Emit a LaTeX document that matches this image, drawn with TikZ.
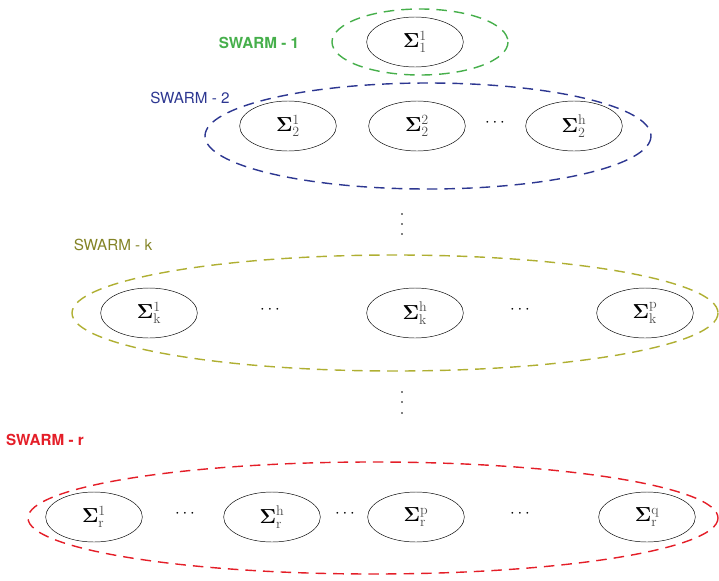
\documentclass[tikz,border=0pt]{standalone}
\usepackage[no-math]{fontspec}
\setsansfont{TeX Gyre Heros}
\usetikzlibrary{shapes.geometric}

\definecolor{swarmgreen}{RGB}{70,175,75}
\definecolor{swarmblue}{RGB}{45,55,145}
\definecolor{swarmolive}{RGB}{175,175,50}
\definecolor{swarmred}{RGB}{228,30,40}

% agent label: bold sigma with upright grey indices
\newcommand{\agentsig}[2]{$\mathbf{\Sigma}_{\textcolor{black!70}{\mathrm{#1}}}^{\textcolor{black!70}{\mathrm{#2}}}$}

\tikzset{
  agent/.style={draw, ellipse, thin, minimum width=2.9cm, minimum height=1.5cm, inner sep=0pt, font=\LARGE},
  swarm/.style={line width=1.2pt, dash pattern=on 9pt off 6pt},
  tag/.style={font=\sffamily\fontsize{13}{15}\selectfont},
  boldtag/.style={font=\sffamily\bfseries\fontsize{13}{15}\selectfont},
  hdots/.style={font=\Large},
}

\begin{document}
\begin{tikzpicture}[x=0.03cm,y=-0.03cm]
\useasboundingbox (0,0) rectangle (719,581);

% swarm 1
\draw[swarm, swarmgreen] (420,42) ellipse [x radius=88, y radius=33];
\node [agent] (s11) at (415,42) {\agentsig{1}{1}};
\node [boldtag, swarmgreen] (t1) at (259,43) {SWARM - 1};

% swarm 2
\draw[swarm, swarmblue] (428,136) ellipse [x radius=223, y radius=53];
\node [agent] (s21) at (288,126) {\agentsig{2}{1}};
\node [agent] (s22) at (417,126) {\agentsig{2}{2}};
\node [agent] (s2h) at (574,126) {\agentsig{2}{h}};
\node [hdots] (d2) at (495,123) {$\cdots$};
\node [tag, swarmblue] (t2) at (190,98) {SWARM - 2};

% vertical dots between swarms
\foreach \y in {214,224,234}
  \fill (402,\y) circle [radius=0.9];

% swarm k
\draw[swarm, swarmolive] (395,313) ellipse [x radius=323, y radius=58];
\node [agent] (sk1) at (149,313) {\agentsig{k}{1}};
\node [agent] (skh) at (415,313) {\agentsig{k}{h}};
\node [agent] (skp) at (645,313) {\agentsig{k}{p}};
\node [hdots] (dk1) at (270,310) {$\cdots$};
\node [hdots] (dk2) at (520,310) {$\cdots$};
\node [tag, swarmolive!75!black] (tk) at (113,245) {SWARM - k};

\foreach \y in {392,402,413}
  \fill (402,\y) circle [radius=0.9];

% swarm r
\draw[swarm, swarmred] (373,518) ellipse [x radius=345, y radius=56];
\node [agent] (sr1) at (94,517) {\agentsig{r}{1}};
\node [agent] (srh) at (272,517) {\agentsig{r}{h}};
\node [agent] (srp) at (416,517) {\agentsig{r}{p}};
\node [agent] (srq) at (647,517) {\agentsig{r}{q}};
\node [hdots] (dr1) at (185,514) {$\cdots$};
\node [hdots] (dr2) at (345,514) {$\cdots$};
\node [hdots] (dr3) at (520,514) {$\cdots$};
\node [boldtag, swarmred] (tr) at (45,440) {SWARM - r};
\end{tikzpicture}
\end{document}
